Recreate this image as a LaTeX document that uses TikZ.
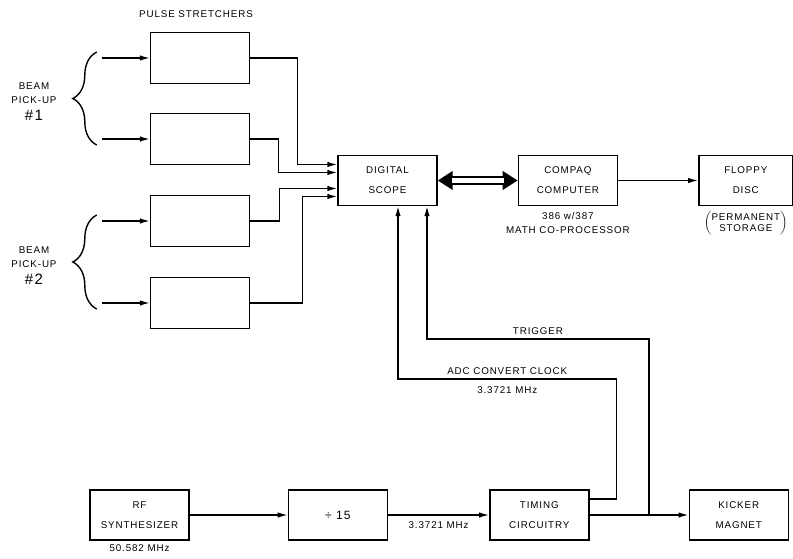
\documentclass[tikz,border=0pt]{standalone}
\usepackage{fontspec}
\setmainfont{Liberation Sans}[LetterSpace=9]
\usepackage{tikz}
\usetikzlibrary{arrows.meta,calc,decorations.pathreplacing}
\usetikzlibrary{positioning}

\begin{document}
\begin{tikzpicture}[x=1pt,y=-1pt,line width=1.4pt,
  blok/.style={draw,minimum width=99pt,minimum height=50pt,align=center,
    font=\fontsize{9.8}{20}\selectfont},
  lbl/.style={align=center,font=\fontsize{9.8}{14}\selectfont},
  arr/.style={-{Latex[length=10pt,width=5.5pt]}},
  brc/.style={decorate,decoration={brace,amplitude=24pt}}]
\useasboundingbox (0,0) rectangle (793,558);

% pulse stretchers
\foreach \y[count=\i] in {58,139,221,303}{
  \node[blok,minimum height=51pt](ps\i) at (200,\y){};
  \coordinate (in\i) at ($(ps\i.west)+(-48,0)$);
  \draw[arr](in\i) -- (ps\i.west);
}
\node[lbl](pstitle) at (196,14){PULSE STRETCHERS};

\draw[brc] ($(in2)+(-5,6)$) -- ($(in1)+(-5,-6)$);
\draw[brc] ($(in4)+(-5,6)$) -- ($(in3)+(-5,-6)$);
\node[lbl](bp1) at (34,102){BEAM\\PICK-UP\\[3pt]{\fontsize{15}{15}\selectfont\#1}};
\node[lbl](bp2) at (34,266){BEAM\\PICK-UP\\[3pt]{\fontsize{15}{15}\selectfont\#2}};

% scope, computer, disc
\node[blok](scope) at (387.5,180.5){DIGITAL\\SCOPE};
\node[blok,right=80pt of scope](cq){COMPAQ\\COMPUTER};
\node[blok,right=80pt of cq,minimum width=94pt](fd){FLOPPY\\DISC};
\node[lbl,below=2pt of cq](cqnote){386 w/387\\MATH CO-PROCESSOR};
\node[lbl,below=0pt of fd](fdnote){$\left(\vcenter{\hbox{\begin{tabular}{@{}c@{}}PERMANENT\\[-3pt]STORAGE\end{tabular}}}\right)$};

\draw[arr](ps1.east) -- ++(47.5,0) |- ([yshift=16pt]scope.west);
\draw[arr](ps2.east) -- ++(28.5,0) |- ([yshift=8pt]scope.west);
\draw[arr](ps3.east) -- ++(29.5,0) |- ([yshift=-8pt]scope.west);
\draw[arr](ps4.east) -- ++(52.5,0) |- ([yshift=-16pt]scope.west);

\draw[line width=9pt,{Triangle[length=15pt,width=18pt]}-{Triangle[length=15pt,width=18pt]}](scope.east) -- (cq.west);
\draw[white,line width=5pt,shorten <=14pt,shorten >=14pt](scope.east) -- (cq.west);
\draw[arr](cq.east) -- (fd.west);

% timing chain
\node[blok](rf) at (139.5,515){RF\\SYNTHESIZER};
\node[blok,right=98pt of rf,font=\fontsize{12}{20}\selectfont](div){÷ 15};
\node[blok,right=101pt of div](tm){TIMING\\CIRCUITRY};
\node[blok,right=99pt of tm](kk){KICKER\\MAGNET};
\node[lbl,below=0pt of rf](rfnote){50.582 MHz};

\draw[arr](rf.east) -- (div.west);
\draw[arr](div.east) -- node[lbl,below=3pt]{3.3721 MHz} (tm.west);
\draw[arr](tm.east) -- (kk.west);
\coordinate (trig) at ($(tm.east)!0.6!(kk.west)$);

\draw[arr]([yshift=16pt]tm.east) -- ++(27,0) -- ++(0,-120)
  -| node[lbl,pos=0.25,above]{ADC CONVERT CLOCK}
     node[lbl,pos=0.25,below=4pt]{3.3721 MHz} ([xshift=10.5pt]scope.south);
\draw[arr](trig) -- ++(0,-176)
  -| node[lbl,pos=0.25,above]{TRIGGER} ([xshift=39.5pt]scope.south);
\end{tikzpicture}
\end{document}
